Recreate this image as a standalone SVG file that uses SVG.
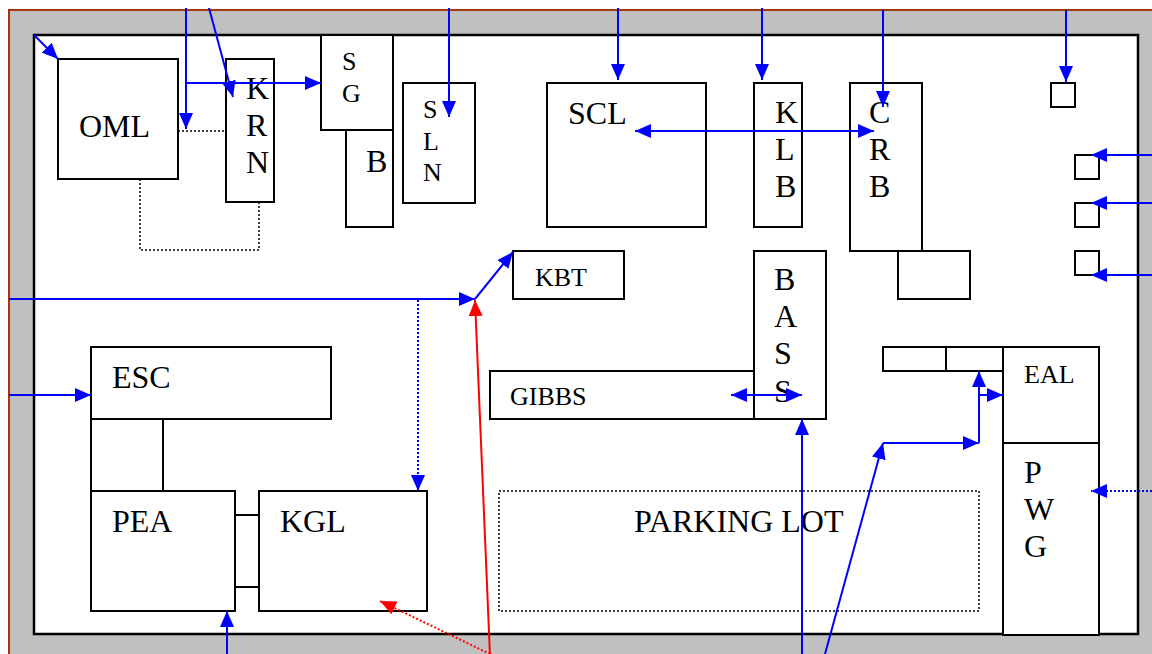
<svg xmlns="http://www.w3.org/2000/svg" width="1152" height="654" viewBox="0 0 1152 654">
<style>
.box{fill:#fff;stroke:#000;stroke-width:2}
.plain{fill:none;stroke:#000;stroke-width:2}
.dot{fill:none;stroke:#000;stroke-width:1.5;stroke-dasharray:2 2}
.t{font-family:"Liberation Serif","Times New Roman",serif;fill:#000}
.big{font-size:32px}
.mid{font-size:26px}
.blue{fill:none;stroke:#0000ff;stroke-width:2}
.bdot{fill:none;stroke:#0000ff;stroke-width:2;stroke-dasharray:2 2}
.red{fill:none;stroke:#ff0000;stroke-width:2}
.rdot{fill:none;stroke:#ff0000;stroke-width:2;stroke-dasharray:2 2}
.arr{marker-end:url(#ab)}
.dbl{marker-start:url(#ab);marker-end:url(#ab)}
</style>
<defs>
<marker id="ab" viewBox="0 0 16 14" refX="16" refY="7" markerWidth="16" markerHeight="14" markerUnits="userSpaceOnUse" orient="auto-start-reverse"><path d="M0,0 L16,7 L0,14 z" fill="#0000ff"/></marker>
<marker id="ar" viewBox="0 0 16 14" refX="16" refY="7" markerWidth="16" markerHeight="14" markerUnits="userSpaceOnUse" orient="auto"><path d="M0,0 L16,7 L0,14 z" fill="#ff0000"/></marker>
</defs>
<rect x="0" y="0" width="1152" height="654" fill="#fff"/>
<g id="frame">
<rect x="9" y="10" width="1150" height="650" fill="#c0c0c0"/>
<path d="M9,660 V10 H1152" fill="none" stroke="#a0380a" stroke-width="2"/>
<rect x="34" y="35" width="1104" height="599" fill="#fff" stroke="#000" stroke-width="2.5"/>
</g>
<g id="OML"><rect class="box" x="58" y="59" width="120" height="120"/><text class="t big" x="79" y="137">OML</text></g>
<g id="KRN"><rect class="box" x="226" y="59" width="48" height="143"/><text class="t big" x="246" y="99">K</text><text class="t big" x="246" y="136">R</text><text class="t big" x="246" y="173">N</text></g>
<g id="SG"><rect class="box" x="321" y="35" width="72" height="95"/><text class="t mid" x="342" y="70">S</text><text class="t mid" x="342" y="102">G</text></g>
<g id="B"><rect class="box" x="346" y="130" width="47" height="97"/><text class="t big" x="366" y="172">B</text></g>
<g id="SLN"><rect class="box" x="403" y="83" width="72" height="120"/><text class="t mid" x="423" y="118">S</text><text class="t mid" x="423" y="150">L</text><text class="t mid" x="423" y="181">N</text></g>
<g id="SCL"><rect class="box" x="547" y="83" width="159" height="144"/><text class="t big" x="568" y="124">SCL</text></g>
<g id="KLB"><rect class="box" x="754" y="83" width="48" height="144"/><text class="t big" x="775" y="123">K</text><text class="t big" x="775" y="160">L</text><text class="t big" x="775" y="197">B</text></g>
<g id="CRB"><rect class="box" x="850" y="83" width="72" height="168"/><text class="t big" x="869" y="123">C</text><text class="t big" x="869" y="160">R</text><text class="t big" x="869" y="197">B</text></g>
<g id="CRB-annex"><rect class="box" x="898" y="251" width="72" height="48"/></g>
<g id="sq1"><rect class="box" x="1051" y="83" width="24" height="24"/></g>
<g id="sq2"><rect class="box" x="1075" y="155" width="24" height="24"/></g>
<g id="sq3"><rect class="box" x="1075" y="203" width="24" height="24"/></g>
<g id="sq4"><rect class="box" x="1075" y="251" width="24" height="24"/></g>
<g id="KBT"><rect class="box" x="513" y="251" width="111" height="48"/><text class="t mid" x="535" y="286">KBT</text></g>
<g id="GIBBS"><rect class="box" x="490" y="371" width="264" height="48"/><text class="t mid" x="510" y="405">GIBBS</text></g>
<g id="BASS"><rect class="box" x="754" y="251" width="72" height="168"/><text class="t big" x="774" y="290">B</text><text class="t big" x="774" y="327">A</text><text class="t big" x="774" y="364">S</text><text class="t big" x="774" y="402">S</text></g>
<g id="ESC"><rect class="box" x="91" y="347" width="240" height="72"/><text class="t big" x="112" y="388">ESC</text></g>
<g id="ESC-PEA-link"><rect class="plain" x="91" y="419" width="72" height="72"/></g>
<g id="PEA"><rect class="box" x="91" y="491" width="144" height="120"/><text class="t big" x="112" y="532">PEA</text></g>
<g id="PEA-KGL-link"><rect class="plain" x="235" y="515" width="24" height="72"/></g>
<g id="KGL"><rect class="box" x="259" y="491" width="168" height="120"/><text class="t big" x="280" y="532">KGL</text></g>
<g id="PARKING"><rect class="dot" x="499" y="491" width="480" height="120"/><text class="t big" x="634" y="532">PARKING LOT</text></g>
<g id="strip1"><rect class="box" x="883" y="347" width="63" height="24"/></g>
<g id="strip2"><rect class="box" x="946" y="347" width="57" height="24"/></g>
<g id="EAL"><rect class="box" x="1003" y="347" width="96" height="96"/><text class="t mid" x="1024" y="383">EAL</text></g>
<g id="PWG"><rect class="box" x="1003" y="443" width="96" height="192"/><text class="t big" x="1024" y="483">P</text><text class="t big" x="1024" y="520">W</text><text class="t big" x="1024" y="557">G</text></g>
<g id="connectors">
<path class="dot" d="M178,131 H226"/>
<path class="dot" d="M140,179 V250 H259 V202"/>
<line class="blue arr" x1="34" y1="35" x2="58" y2="59"/>
<line class="blue arr" x1="186" y1="8" x2="186" y2="129"/>
<line class="blue arr" x1="186" y1="83" x2="321" y2="83"/>
<line class="blue arr" x1="209" y1="8" x2="233" y2="97"/>
<line class="blue arr" x1="449" y1="8" x2="449" y2="117"/>
<line class="blue arr" x1="618" y1="8" x2="618" y2="80"/>
<line class="blue arr" x1="762" y1="8" x2="762" y2="80"/>
<line class="blue arr" x1="883" y1="10" x2="883" y2="107"/>
<line class="blue arr" x1="1066" y1="10" x2="1066" y2="82"/>
<line class="blue dbl" x1="635" y1="131" x2="874" y2="131"/>
<line class="blue arr" x1="1152" y1="155" x2="1091" y2="155"/>
<line class="blue arr" x1="1152" y1="203" x2="1091" y2="203"/>
<line class="blue arr" x1="1152" y1="275" x2="1091" y2="275"/>
<line class="blue arr" x1="9" y1="299" x2="475" y2="299"/>
<line class="blue arr" x1="475" y1="299" x2="513" y2="252"/>
<line class="bdot arr" x1="418" y1="300" x2="418" y2="491"/>
<line class="blue arr" x1="9" y1="395" x2="91" y2="395"/>
<line class="blue arr" x1="227" y1="654" x2="227" y2="611"/>
<line class="red" x1="490" y1="656" x2="475" y2="300" marker-end="url(#ar)"/>
<line class="rdot" x1="490" y1="654" x2="380" y2="601" marker-end="url(#ar)"/>
<line class="blue dbl" x1="731" y1="395" x2="802" y2="395"/>
<line class="blue arr" x1="802" y1="654" x2="802" y2="419"/>
<line class="blue arr" x1="825" y1="654" x2="883" y2="443"/>
<line class="blue arr" x1="883" y1="443" x2="979" y2="443"/>
<line class="blue arr" x1="979" y1="443" x2="979" y2="371"/>
<line class="blue arr" x1="979" y1="395" x2="1003" y2="395"/>
<line class="bdot arr" x1="1152" y1="491" x2="1091" y2="491"/>
</g>
</svg>
